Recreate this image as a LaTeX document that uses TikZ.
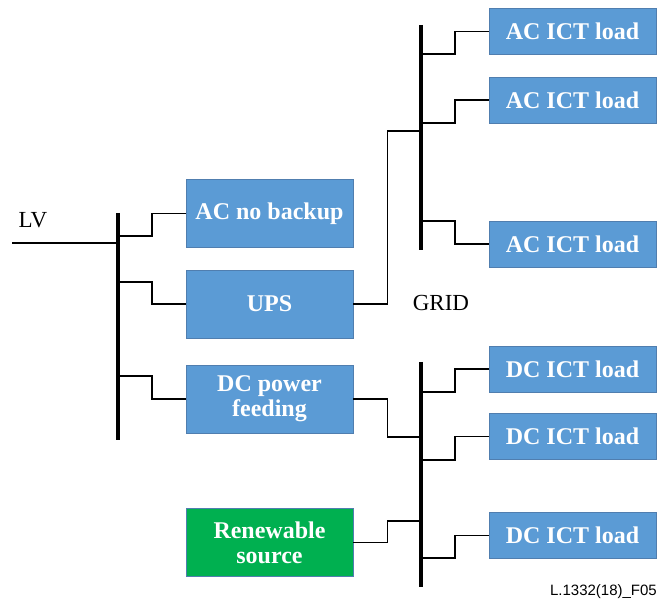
\documentclass[tikz,border=0pt]{standalone}
\usepackage{fontspec}
\setmainfont{Liberation Serif}
\newfontfamily\figfont{Liberation Sans}
\usetikzlibrary{positioning}
\definecolor{boxBlue}{RGB}{91,155,213}
\definecolor{boxGreen}{RGB}{0,176,80}
\definecolor{boxEdge}{RGB}{80,126,175}

\begin{document}
\begin{tikzpicture}[x=1pt,y=-1pt,
    unit/.style={draw=boxEdge,line width=0.8pt,fill=boxBlue,text=white,
      font=\fontsize{24}{25}\selectfont\bfseries,align=center,
      minimum width=167pt,inner sep=0pt},
    sideunit/.style={unit,minimum height=68pt},
    loadunit/.style={unit,minimum height=46pt},
    bus/.style={line width=3.6pt},
    wire/.style={line width=1.2pt}]
    \useasboundingbox (0,0) rectangle (657,604);
    % boxes on the left
    \node[sideunit] (acnb) at (269.5,213.5) {AC no backup};
    \node[sideunit] (ups) at (269.5,304) {UPS};
    \node[sideunit] (dcpf) at (269.5,399) {DC power\\feeding};
    \node[sideunit,fill=boxGreen] (ren) at (269.5,542.5) {Renewable\\source};
    % loads on the right
    \node[loadunit] (acl1) at (572.5,31.5) {AC ICT load};
    \node[loadunit] (acl2) at (572.5,100) {AC ICT load};
    \node[loadunit] (acl3) at (572.5,244) {AC ICT load};
    \node[loadunit] (dcl1) at (572.5,369) {DC ICT load};
    \node[loadunit] (dcl2) at (572.5,436.5) {DC ICT load};
    \node[loadunit] (dcl3) at (572.5,535.5) {DC ICT load};
    % bus bars
    \coordinate (lvtop) at (118,213);
    \coordinate (lvbot) at (118,440);
    \coordinate (actop) at (421,25);
    \coordinate (acbot) at (421,250);
    \coordinate (dctop) at (421,362);
    \coordinate (dcbot) at (421,587);
    \draw[bus] (lvtop) -- (lvbot);
    \draw[bus] (actop) -- (acbot);
    \draw[bus] (dctop) -- (dcbot);
    % tap points
    \coordinate (lvin) at (12,243);
    \coordinate (lvfeed) at (118,243);
    \coordinate (lvt1) at (118,236);
    \coordinate (lvt2) at (118,282);
    \coordinate (lvt3) at (118,376);
    \coordinate (act0) at (421,131);
    \coordinate (act1) at (421,54);
    \coordinate (act2) at (421,123);
    \coordinate (act3) at (421,221);
    \coordinate (dct0) at (421,437);
    \coordinate (dct4) at (421,521);
    \coordinate (dct1) at (421,392);
    \coordinate (dct2) at (421,460);
    \coordinate (dct3) at (421,558);
    % wiring
    \draw[wire] (lvin) -- (lvfeed);
    \draw[wire] (lvt1) -- ++(34,0) |- (acnb.west);
    \draw[wire] (lvt2) -- ++(34,0) |- (ups.west);
    \draw[wire] (lvt3) -- ++(34,0) |- (dcpf.west);
    \draw[wire] (ups.east) -- ++(34,0) |- (act0);
    \draw[wire] (dcpf.east) -- ++(34,0) |- (dct0);
    \draw[wire] (ren.east) -- ++(34,0) |- (dct4);
    \draw[wire] (act1) -- ++(34,0) |- (acl1.west);
    \draw[wire] (act2) -- ++(34,0) |- (acl2.west);
    \draw[wire] (act3) -- ++(34,0) |- (acl3.west);
    \draw[wire] (dct1) -- ++(34,0) |- (dcl1.west);
    \draw[wire] (dct2) -- ++(34,0) |- (dcl2.west);
    \draw[wire] (dct3) -- ++(34,0) |- (dcl3.west);
    % labels
    \node[font=\fontsize{23}{24}\selectfont] (lv) at (33,220) {LV};
    \node[font=\fontsize{23}{24}\selectfont] (grid) at (441,303) {GRID};
    \node[font=\figfont\fontsize{15}{17}\selectfont,anchor=east,inner sep=0pt] (fig) at (657,592) {L.1332(18)\_F05};
\end{tikzpicture}
\end{document}
